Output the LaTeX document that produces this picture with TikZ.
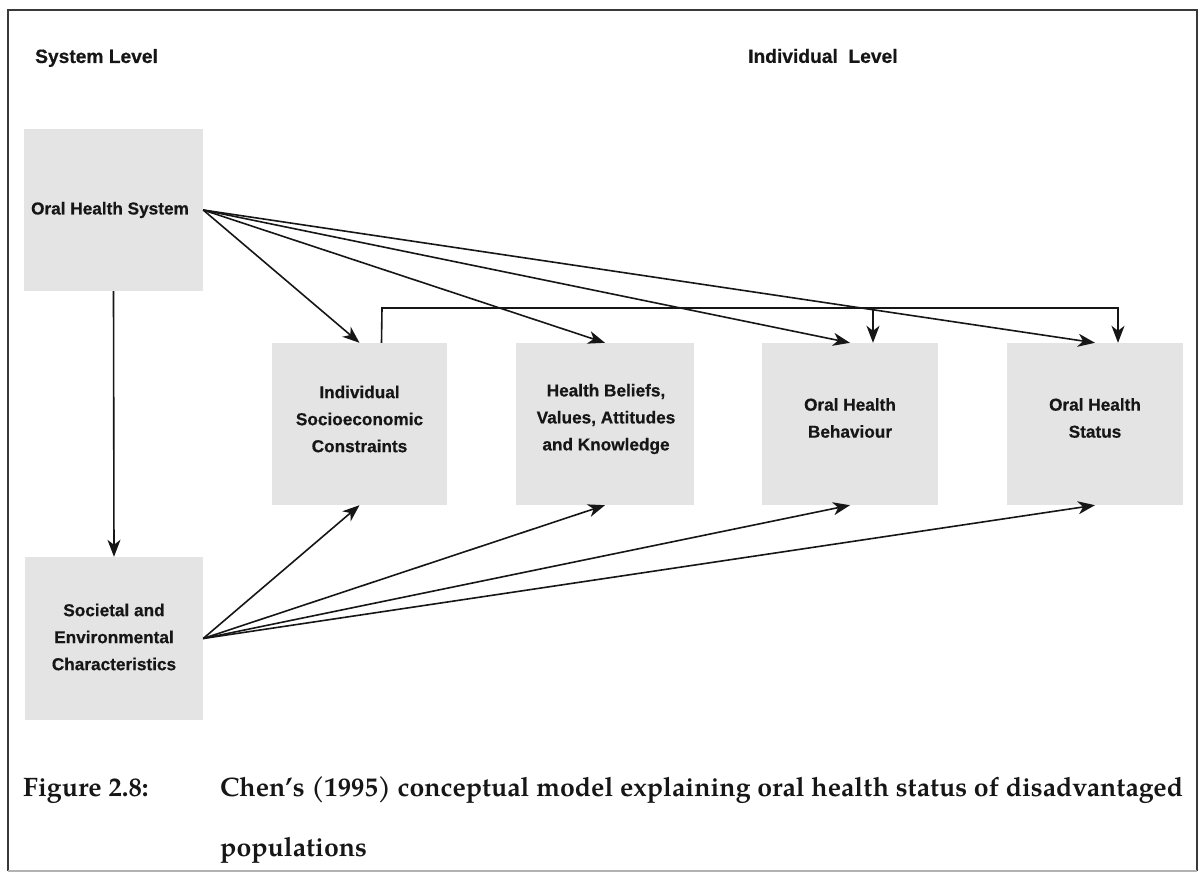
\documentclass[tikz,border=0pt]{standalone}
\usepackage{fontspec}
\setsansfont{Liberation Sans}[BoldFeatures={FakeBold=0.6}]
\newfontfamily\capfont{TeX Gyre Pagella}
\usetikzlibrary{arrows.meta}
\definecolor{boxgray}{RGB}{228,228,228}
\definecolor{ink}{RGB}{22,22,22}
\begin{document}
\begin{tikzpicture}[x=1pt,y=-1pt,
  box/.style={fill=boxgray,draw=none,inner sep=0pt},
  boxtext/.style={font=\sffamily\bfseries\fontsize{17.2}{27}\selectfont,align=center,text=ink,inner sep=0pt},
  heading/.style={font=\sffamily\bfseries\fontsize{19.2}{22}\selectfont,text=ink,inner sep=0pt,anchor=west},
  arr/.style={draw=ink,line width=1.6pt,-{Stealth[length=17pt,width=13pt,inset=5pt]}},
  captxt/.style={font=\capfont\bfseries\fontsize{26.7}{32}\selectfont,text=ink,inner sep=0pt,anchor=base west}]
\useasboundingbox (0,0) rectangle (1200,875);
% outer frame
\draw[ink!85,line width=1.6pt] (8,871) -- (8,10) -- (1197,10) -- (1197,871);
\draw[gray!60,line width=1.4pt] (8,871) -- (1197,871);

% level headings
\node[heading] (hsys) at (35,58) {System Level};
\node[heading] (hind) at (748,56) {Individual\ \ Level};

% boxes
\node[box,minimum width=179pt,minimum height=162pt] (ohs) at (113.5,210) {};
\node[box,minimum width=178pt,minimum height=163pt] (sec) at (114,638.5) {};
\node[box,minimum width=175pt,minimum height=162pt] (isc) at (359.5,424) {};
\node[box,minimum width=178pt,minimum height=162pt] (hbv) at (605,424) {};
\node[box,minimum width=176pt,minimum height=162pt] (ohb) at (850,424) {};
\node[box,minimum width=176pt,minimum height=162pt] (ost) at (1095,424) {};

% box labels
\node[boxtext] (tohs) at (110,210) {Oral Health System};
\node[boxtext] (tsec) at (114,637) {Societal and\\Environmental\\Characteristics};
\node[boxtext] (tisc) at (359.5,419) {Individual\\Socioeconomic\\Constraints};
\node[boxtext] (thbv) at (606,419) {Health Beliefs,\\Values, Attitudes\\and Knowledge};
\node[boxtext] (tohb) at (850,418) {Oral Health\\Behaviour};
\node[boxtext] (tost) at (1095,418) {Oral Health\\Status};

% system level influences
\draw[arr] (ohs.south) -- (sec.north);
\draw[arr] (ohs.east) -- (isc.north);
\draw[arr] (ohs.east) -- (hbv.north);
\draw[arr] (ohs.east) -- (ohb.north);
\draw[arr] (ohs.east) -- (ost.north);
\draw[arr] (sec.east) -- (isc.south);
\draw[arr] (sec.east) -- (hbv.south);
\draw[arr] (sec.east) -- (ohb.south);
\draw[arr] (sec.east) -- (ost.south);

% socioeconomic constraints feeding behaviour and status
\coordinate (bend) at (382,308);
\draw[arr] ([xshift=22pt]isc.north) -- (bend) -| ([xshift=23pt]ost.north);
\draw[arr] ([xshift=23pt]ohb.north |- bend) -- ([xshift=23pt]ohb.north);

% caption
\node[captxt] (cfig) at (23,796) {Figure 2.8:};
\node[captxt] (cl1) at (220,796) {Chen’s (1995) conceptual model explaining oral health status of disadvantaged};
\node[captxt] (cl2) at (220,856) {populations};
\end{tikzpicture}
\end{document}
